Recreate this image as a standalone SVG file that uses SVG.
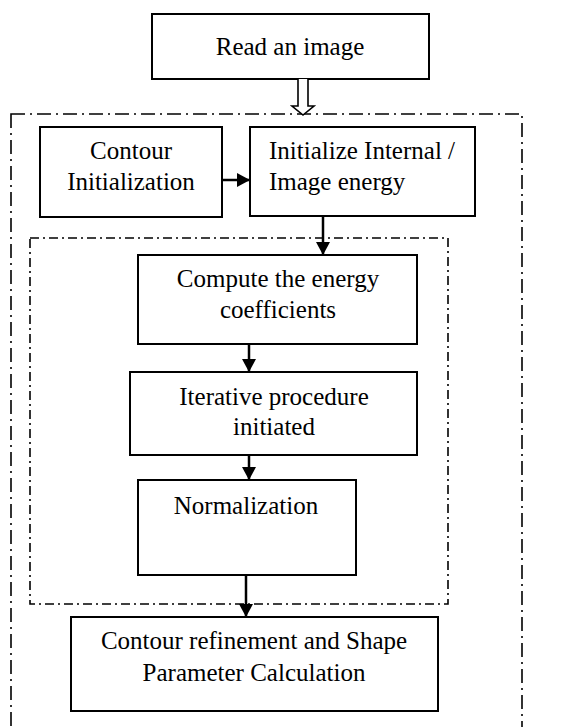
<svg xmlns="http://www.w3.org/2000/svg" width="586" height="727" viewBox="0 0 586 727">
<style>
.box{fill:#fff;stroke:#000;stroke-width:2}
.t{font-family:"Liberation Serif","Times New Roman",serif;font-size:25px;fill:#000}
.c{text-anchor:middle}
.outer{fill:none;stroke:#000;stroke-width:1.6;stroke-dasharray:14 5 2 5}
.inner{fill:none;stroke:#000;stroke-width:1.6;stroke-dasharray:9 4 2 4}
.conn{stroke:#000;stroke-width:2.5;fill:none}
</style>
<defs>
<marker id="ah" markerWidth="13" markerHeight="14" refX="10" refY="5" orient="auto" markerUnits="userSpaceOnUse" viewBox="0 0 10 10" preserveAspectRatio="none">
<path d="M0,0 L10,5 L0,10 Z" fill="#000"/>
</marker>
</defs>
<g id="frames">
<rect class="outer" x="11" y="114" width="511" height="640"/>
<rect class="inner" x="30" y="238" width="418" height="366"/>
</g>
<g id="n-read"><rect class="box" x="152" y="14" width="277" height="65"/><text class="t c" x="290" y="55">Read an image</text></g>
<g id="n-contour-init"><rect class="box" x="40" y="127" width="182" height="90"/><text class="t c" x="131" y="159">Contour</text><text class="t c" x="131" y="190">Initialization</text></g>
<g id="n-init-energy"><rect class="box" x="250" y="127" width="225" height="89"/><text class="t" x="269" y="159">Initialize Internal /</text><text class="t" x="269" y="190">Image energy</text></g>
<g id="n-compute"><rect class="box" x="138" y="255" width="279" height="89"/><text class="t c" x="278" y="287">Compute the energy</text><text class="t c" x="278" y="318">coefficients</text></g>
<g id="n-iter"><rect class="box" x="130" y="372" width="287" height="83"/><text class="t c" x="274" y="405">Iterative procedure</text><text class="t c" x="274" y="435">initiated</text></g>
<g id="n-norm"><rect class="box" x="138" y="480" width="218" height="95"/><text class="t c" x="246" y="514">Normalization</text></g>
<g id="n-refine"><rect class="box" x="71" y="617" width="367" height="94"/><text class="t c" x="254" y="649">Contour refinement and Shape</text><text class="t c" x="254" y="681">Parameter Calculation</text></g>
<g id="connectors">
<path d="M298,79 V106 H292 L303,115 L314,106 H308 V79" fill="#fff" stroke="#000" stroke-width="1.6" stroke-linejoin="miter"/>
<line class="conn" x1="222" y1="180" x2="250" y2="180" marker-end="url(#ah)"/>
<line class="conn" x1="323" y1="216" x2="323" y2="255" marker-end="url(#ah)"/>
<line class="conn" x1="249" y1="344" x2="249" y2="372" marker-end="url(#ah)"/>
<line class="conn" x1="249" y1="455" x2="249" y2="480" marker-end="url(#ah)"/>
<line class="conn" x1="246" y1="575" x2="246" y2="617" marker-end="url(#ah)"/>
</g>
</svg>
